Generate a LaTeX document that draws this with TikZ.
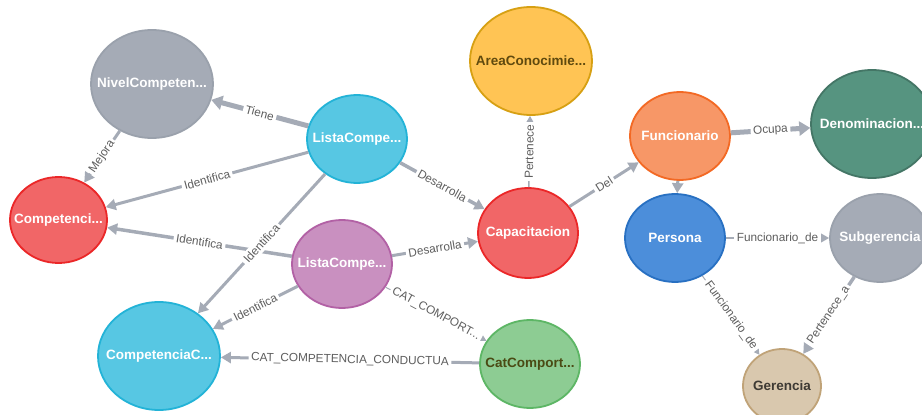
\documentclass[tikz,border=0pt]{standalone}
\usepackage{fontspec}
\setmainfont{Liberation Sans}
\usetikzlibrary{shapes.geometric,arrows.meta}
\definecolor{edgec}{HTML}{A5ABB6}
\definecolor{labc}{HTML}{5E5E5E}
\definecolor{cgray}{HTML}{A5ABB6}\definecolor{cgrayb}{HTML}{9AA1AC}
\definecolor{cblue}{HTML}{57C7E3}\definecolor{cblueb}{HTML}{23B3D7}
\definecolor{cred}{HTML}{F16667}\definecolor{credb}{HTML}{EB2728}
\definecolor{cpurp}{HTML}{C990C0}\definecolor{cpurpb}{HTML}{B261A5}
\definecolor{cyel}{HTML}{FFC454}\definecolor{cyelb}{HTML}{D7A013}
\definecolor{corg}{HTML}{F79767}\definecolor{corgb}{HTML}{F36924}
\definecolor{cdgreen}{HTML}{569480}\definecolor{cdgreenb}{HTML}{447666}
\definecolor{cpers}{HTML}{4C8EDA}\definecolor{cpersb}{HTML}{2870C2}
\definecolor{cgreen}{HTML}{8DCC93}\definecolor{cgreenb}{HTML}{5DB665}
\definecolor{ctan}{HTML}{D9C8AE}\definecolor{ctanb}{HTML}{C0A378}
\definecolor{tbrown}{HTML}{604A0E}
\definecolor{tolive}{HTML}{4A4A14}
\definecolor{tdark}{HTML}{3E3A34}
\newcommand{\ntxt}[1]{\makebox[0pt]{#1}}
\begin{document}
\begin{tikzpicture}[x=1pt,y=-1pt,
  nd/.style={ellipse, line width=1.8pt, inner sep=0pt, text=white,
    font=\fontsize{13.5}{14}\selectfont\bfseries},
  big/.style={minimum width=122pt, minimum height=108pt},
  small/.style={minimum width=100pt, minimum height=88pt},
  ed/.style={draw=edgec, line width=3pt, -{Triangle[length=10pt,width=11pt]}},
  el/.style={midway, sloped, fill=white, inner sep=2.5pt, text=labc,
    font=\fontsize{11.8}{13}\selectfont}
]
\useasboundingbox[fill=white] (0,0) rectangle (922,415);

\node[nd, big, fill=cgray, draw=cgrayb] (niv) at (152,84) {\ntxt{NivelCompeten...}};
\node[nd, small, fill=cblue, draw=cblueb] (lb) at (357,139) {\ntxt{ListaCompe...}};
\node[nd, fill=cred, draw=credb, minimum width=97pt, minimum height=86pt] (comp) at (58.5,220) {\ntxt{Competenci...}};
\node[nd, small, fill=cpurp, draw=cpurpb] (lp) at (342,264) {\ntxt{ListaCompe...}};
\node[nd, big, fill=cblue, draw=cblueb] (cc) at (159,356) {\ntxt{CompetenciaC...}};
\node[nd, big, fill=cyel, draw=cyelb, text=tbrown] (area) at (531,61) {\ntxt{AreaConocimie...}};
\node[nd, small, fill=corg, draw=corgb] (func) at (680,136) {\ntxt{Funcionario}};
\node[nd, big, fill=cdgreen, draw=cdgreenb] (deno) at (872,124) {\ntxt{Denominacion...}};
\node[nd, small, fill=cred, draw=credb, minimum height=90pt] (cap) at (528,233) {\ntxt{Capacitacion}};
\node[nd, small, fill=cpers, draw=cpersb] (pers) at (675,238) {\ntxt{Persona}};
\node[nd, small, fill=cgray, draw=cgrayb] (sub) at (880,238) {\ntxt{Subgerencia}};
\node[nd, small, fill=cgreen, draw=cgreenb, text=tolive] (cat) at (530,364) {\ntxt{CatComport...}};
\node[nd, fill=ctan, draw=ctanb, text=tdark, minimum width=78pt, minimum height=74pt] (ger) at (782,386) {\ntxt{Gerencia}};

\draw[ed, line width=5pt, -{Triangle[length=11pt,width=14pt]}] (lb) -- (niv) node[el]{Tiene};
\draw[ed] (niv) -- (comp) node[el]{Mejora};
\draw[ed] (lb) -- (comp) node[el]{Identifica};
\draw[ed, line width=3.5pt] (lb) -- (cap) node[el]{Desarrolla};
\draw[ed, line width=3.5pt] (lp) -- (comp) node[el]{Identifica};
\draw[ed] (lb) -- (cc) node[el]{Identifica};
\draw[ed] (lp) -- (cap) node[el]{Desarrolla};
\draw[ed] (lp) -- (cc) node[el]{Identifica};
\draw[ed, line width=1pt] (lp) -- (cat) node[el]{CAT\_COMPORT...};
\draw[ed] (cat) -- (cc) node[el]{CAT\_COMPETENCIA\_CONDUCTUA};
\draw[ed, line width=1.5pt] (cap) -- (area) node[el]{Pertenece};
\draw[ed] (cap) -- (func) node[el]{Del};
\draw[ed, line width=5pt, -{Triangle[length=11pt,width=14pt]}] (func) -- (deno) node[el]{Ocupa};
\draw[ed] (func) -- (pers);
\draw[ed, line width=1.5pt, -{Triangle[length=11pt,width=12pt]}] (pers) -- (sub) node[el]{Funcionario\_de};
\draw[ed, line width=1pt, -{Triangle[length=11pt,width=12pt]}] (pers) -- (ger) node[el]{Funcionario\_de};
\draw[ed, line width=3.5pt, -{Triangle[length=11pt,width=12pt]}] (sub) -- (ger) node[el]{Pertenece\_a};
\end{tikzpicture}
\end{document}
